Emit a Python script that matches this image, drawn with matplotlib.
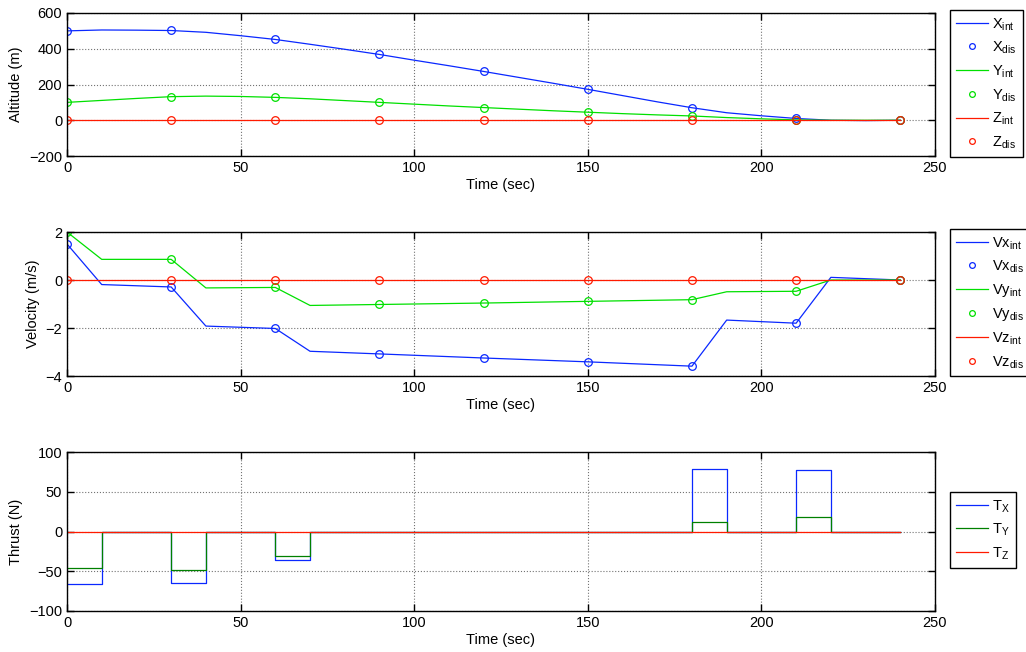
"""Recreate the altitude / velocity / thrust time histories."""

import matplotlib

matplotlib.use("Agg")

import matplotlib.pyplot as plt

plt.rcParams["font.family"] = ["Liberation Sans", "DejaVu Sans"]
plt.rcParams["font.size"] = 10
plt.rcParams["mathtext.fontset"] = "custom"
plt.rcParams["mathtext.rm"] = "Liberation Sans"

# discrete sample times (sec)
t_dis = [0, 30, 60, 90, 120, 150, 180, 210, 240]

# altitude (m), discrete samples
x_dis = [500, 503, 452, 368, 273, 173, 70, 10, 0]
y_dis = [100, 132, 128, 100, 71, 45, 24, 2, 0]
z_dis = [0, 0, 0, 0, 0, 0, 0, 0, 0]

# altitude (m), integrated trajectory read every 10 s
t_int = [0, 10, 20, 30, 40, 50, 60, 70, 80, 90, 100, 110, 120,
         130, 140, 150, 160, 170, 180, 190, 200, 210, 220, 230, 240]
x_int = [500, 505, 504, 502, 492, 473, 452, 425, 397, 368, 336, 305, 273,
         240, 207, 173, 138, 103, 70, 42, 25, 10, 0, -2, 0]
y_int = [100, 111, 122, 132, 135, 133, 128, 120, 110, 100, 90, 80, 71,
         62, 53, 45, 37, 30, 24, 15, 8, 2, 0, 0, 0]
z_int = [0] * len(t_int)

# velocity (m/s), discrete samples
vx_dis = [1.5, -0.29, -2.02, -3.08, -3.25, -3.41, -3.59, -1.80, 0.0]
vy_dis = [2.0, 0.86, -0.31, -1.02, -0.96, -0.89, -0.82, -0.47, 0.0]
vz_dis = [0, 0, 0, 0, 0, 0, 0, 0, 0]

# velocity (m/s), integrated breakpoints
tv_int = [0, 10, 30, 40, 60, 70, 90, 120, 150, 180, 190, 210, 220, 240]
vx_int = [1.5, -0.19, -0.29, -1.92, -2.02, -2.97, -3.08, -3.25, -3.41,
          -3.59, -1.67, -1.80, 0.11, 0.0]
vy_int = [2.0, 0.86, 0.86, -0.33, -0.31, -1.06, -1.02, -0.96, -0.89,
          -0.82, -0.49, -0.47, 0.0, 0.0]
vz_int = [0] * len(tv_int)

# thrust (N), piecewise constant from each breakpoint
t_thr = [0, 10, 30, 40, 60, 70, 180, 190, 210, 220, 240]
tx = [-66.5, 0, -65, 0, -35.5, 0, 79, 0, 77.5, 0, 0]
ty = [-46, 0, -48, 0, -31, 0, 12.3, 0, 18.2, 0, 0]
tz = [0] * len(t_thr)

BLUE = "#0a28ff"
GREEN = "#00e000"
DARK_GREEN = "#008000"
RED = "#ff1a00"


def style_axis(ax, ylim, yticks):
    ax.set_xlim(0, 250)
    ax.set_ylim(*ylim)
    ax.set_xticks([0, 50, 100, 150, 200, 250])
    ax.set_yticks(yticks)
    ax.grid(True, linestyle=":", color="0.45", linewidth=0.8)
    ax.tick_params(direction="in", top=True, right=True, length=5, width=1,
                   labelsize=10.5)
    for spine in ax.spines.values():
        spine.set_linewidth(1.0)
    ax.set_xlabel("Time (sec)", labelpad=2, fontsize=10.5)


def add_legend(ax, anchor):
    leg = ax.legend(loc="upper left", bbox_to_anchor=anchor,
                    bbox_transform=ax.figure.transFigure,
                    fancybox=False, framealpha=1, edgecolor="black",
                    handlelength=2.2, handletextpad=0.3, borderaxespad=0,
                    labelspacing=0.48, borderpad=0.4, fontsize=10.5,
                    markerscale=0.75)
    leg.get_frame().set_linewidth(1.0)
    return leg


fig = plt.figure(figsize=(10.26, 6.52), dpi=100)
W, H = 1026, 652


def px_axes(left, top, right, bottom):
    return fig.add_axes([left / W, 1 - bottom / H,
                         (right - left) / W, (bottom - top) / H])


mk = dict(marker="o", linestyle="none", markersize=5.5,
          markerfacecolor="none", markeredgewidth=0.9)

# altitude
ax1 = px_axes(67, 13, 935, 156)
ax1.plot(t_int, x_int, color=BLUE, lw=0.9, label=r"X$_{\mathrm{int}}$")
ax1.plot(t_dis, x_dis, color=BLUE, **mk, label=r"X$_{\mathrm{dis}}$")
ax1.plot(t_int, y_int, color=GREEN, lw=0.9, label=r"Y$_{\mathrm{int}}$")
ax1.plot(t_dis, y_dis, color=GREEN, **mk, label=r"Y$_{\mathrm{dis}}$")
ax1.plot(t_int, z_int, color=RED, lw=0.9, label=r"Z$_{\mathrm{int}}$")
ax1.plot(t_dis, z_dis, color=RED, **mk, label=r"Z$_{\mathrm{dis}}$")
style_axis(ax1, (-200, 600), [-200, 0, 200, 400, 600])
ax1.set_ylabel("Altitude (m)", fontsize=10.5)
add_legend(ax1, (950 / W, 1 - 10 / H))

# velocity
ax2 = px_axes(67, 232, 935, 376)
ax2.plot(tv_int, vx_int, color=BLUE, lw=0.9, label=r"Vx$_{\mathrm{int}}$")
ax2.plot(t_dis, vx_dis, color=BLUE, **mk, label=r"Vx$_{\mathrm{dis}}$")
ax2.plot(tv_int, vy_int, color=GREEN, lw=0.9, label=r"Vy$_{\mathrm{int}}$")
ax2.plot(t_dis, vy_dis, color=GREEN, **mk, label=r"Vy$_{\mathrm{dis}}$")
ax2.plot(tv_int, vz_int, color=RED, lw=0.9, label=r"Vz$_{\mathrm{int}}$")
ax2.plot(t_dis, vz_dis, color=RED, **mk, label=r"Vz$_{\mathrm{dis}}$")
style_axis(ax2, (-4, 2), [-4, -2, 0, 2])
ax2.set_ylabel("Velocity (m/s)", fontsize=10.5)
add_legend(ax2, (950 / W, 1 - 229 / H))

# thrust
ax3 = px_axes(67, 452, 935, 611)
ax3.plot(t_thr, tx, color=BLUE, lw=0.9, drawstyle="steps-post",
         label=r"T$_{\mathrm{X}}$")
ax3.plot(t_thr, ty, color=DARK_GREEN, lw=0.9, drawstyle="steps-post",
         label=r"T$_{\mathrm{Y}}$")
ax3.plot(t_thr, tz, color=RED, lw=0.9, drawstyle="steps-post",
         label=r"T$_{\mathrm{Z}}$")
style_axis(ax3, (-100, 100), [-100, -50, 0, 50, 100])
ax3.set_ylabel("Thrust (N)", fontsize=10.5)
add_legend(ax3, (950 / W, 1 - 492 / H))

fig.savefig("out.png", dpi=100)
